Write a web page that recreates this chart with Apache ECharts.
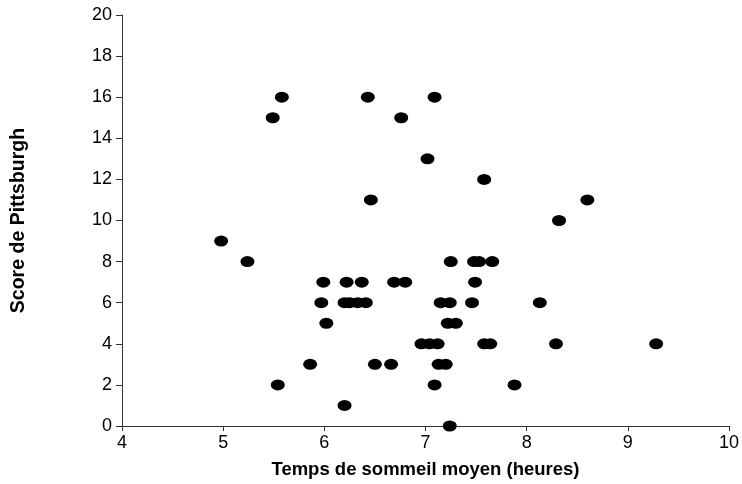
<!DOCTYPE html>
<html><head><meta charset="utf-8">
<script src="https://cdn.jsdelivr.net/npm/echarts@6/dist/echarts.min.js"></script>
<style>html,body{margin:0;padding:0;background:#fff}#c{width:742px;height:484px}</style>
</head><body><div id="c"></div>
<script>
var sleepHours = [5.58,6.43,7.09,5.49,6.76,7.02,7.58,6.46,8.60,8.32,4.98,5.24,7.25,7.48,7.53,7.66,5.99,6.22,6.37,6.69,6.80,7.49,5.97,6.20,6.25,6.33,6.41,7.15,7.24,7.46,8.13,6.02,7.22,7.30,6.96,7.04,7.12,7.58,7.64,8.29,9.28,5.86,6.50,6.66,7.13,7.20,5.54,7.09,7.88,6.20,7.24];
var pittsburghScore = [16,16,16,15,15,13,12,11,11,10,9,8,8,8,8,8,7,7,7,7,7,7,6,6,6,6,6,6,6,6,6,5,5,5,4,4,4,4,4,4,4,3,3,3,3,3,2,2,2,1,0];
var xTitle = 'Temps de sommeil moyen (heures)';
var yTitle = 'Score de Pittsburgh';

var pts = sleepHours.map(function(x,i){return [x, pittsburghScore[i]];});
var chart = echarts.init(document.getElementById('c'));
var font = 'Liberation Sans, Arial, sans-serif';
chart.setOption({
  animation:false,
  grid:{left:122,right:12,top:15,bottom:58,containLabel:false},
  xAxis:{type:'value',min:4,max:10,interval:1,
    name:xTitle,nameLocation:'middle',nameGap:34,
    nameTextStyle:{fontFamily:font,fontWeight:'bold',fontSize:18.5,color:'#000'},
    axisLine:{onZero:false,lineStyle:{color:'#333',width:1}},
    axisTick:{show:true,length:5,lineStyle:{color:'#333'}},
    axisLabel:{fontFamily:font,fontSize:18,color:'#000',margin:8},
    splitLine:{show:false}},
  yAxis:{type:'value',min:0,max:20,interval:2,
    name:yTitle,nameLocation:'middle',nameGap:93,nameRotate:90,
    nameTextStyle:{fontFamily:font,fontWeight:'bold',fontSize:19.5,color:'#000'},
    axisLine:{show:true,onZero:false,lineStyle:{color:'#333',width:1}},
    axisTick:{show:true,length:6,lineStyle:{color:'#333'}},
    axisLabel:{fontFamily:font,fontSize:18,color:'#000',margin:10},
    splitLine:{show:false}},
  series:[{type:'scatter',data:pts,symbol:'circle',symbolSize:[14,11],clip:false,
    itemStyle:{color:'#000',opacity:1}}]
});
</script></body></html>
